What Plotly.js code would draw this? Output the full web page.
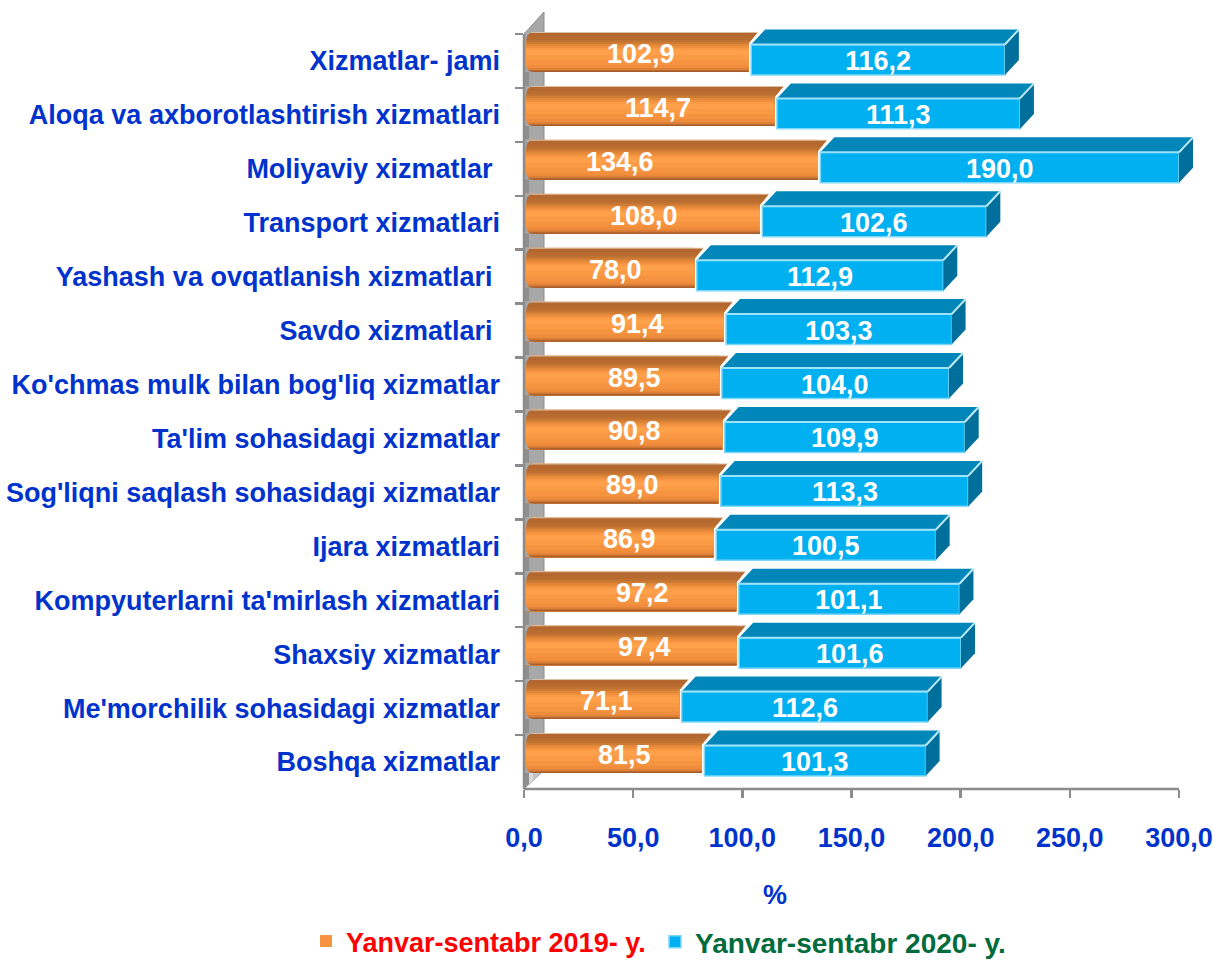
<!DOCTYPE html>
<html><head><meta charset="utf-8">
<script src="https://cdn.plot.ly/plotly-3.0.1.min.js"></script>
<style>html,body{margin:0;padding:0;background:#fff;overflow:hidden}</style>
</head><body><div id="chart" style="width:1214px;height:960px"></div>
<script>
var categories = ["Xizmatlar- jami","Aloqa va axborotlashtirish xizmatlari","Moliyaviy xizmatlar ","Transport xizmatlari","Yashash va ovqatlanish xizmatlari ","Savdo xizmatlari ","Ko'chmas mulk bilan bog'liq xizmatlar","Ta'lim sohasidagi xizmatlar","Sog'liqni saqlash sohasidagi xizmatlar","Ijara xizmatlari","Kompyuterlarni ta'mirlash xizmatlari","Shaxsiy xizmatlar","Me'morchilik sohasidagi xizmatlar","Boshqa xizmatlar"];
var values2019 = [102.9,114.7,134.6,108.0,78.0,91.4,89.5,90.8,89.0,86.9,97.2,97.4,71.1,81.5];
var values2020 = [116.2,111.3,190.0,102.6,112.9,103.3,104.0,109.9,113.3,100.5,101.1,101.6,112.6,101.3];
var name2019 = "Yanvar-sentabr 2019- y.";
var name2020 = "Yanvar-sentabr 2020- y.";
var axisMax = 300;
// where the hand-placed labels of the 2019 series sit on the x axis
var label2019At = [53.6,61.4,44.0,55.0,41.7,52.2,50.4,50.8,49.9,48.5,54.5,55.4,38.0,45.8];

var W=1214,H=960,L=524,B=171,pxX=655/300,pxY=53.93;
var xRangeMax=(W-L)/pxX, yRangeTop=13.5-(H-B)/pxY;
function dx(p){return p/pxX;} function dy(p){return p/pxY;}
var fmt=function(v){return v.toFixed(1).replace('.',',');};
var base2020=values2019.map(function(v){return v+dx(2.5);});
var drawn2020=values2020.map(function(v,i){return Math.min(v,axisMax-base2020[i]);});
var fam='"Liberation Sans",Arial,sans-serif';
var shapes=[],annotations=[];
function path(pts,fill,layer,line){
  shapes.push({type:'path',xref:'x',yref:'y',layer:layer||'above',
    path:'M'+pts.map(function(p){return p[0]+','+p[1];}).join(' L')+' Z',
    fillcolor:fill,line:line||{width:0}});
}
// wall
var wx=dx(20),wy=dy(22);
path([[0,13.5],[wx,13.5-dy(19)],[wx,-0.5-wy],[0,-0.5]],'#A8A8A8','below',{color:'#8C8C8C',width:1});
path([[0,13.5],[wx,13.5-dy(19)],[wx,13.5-dy(48)],[0,13.5-dy(30)]],'#C4C4C4','below');
path([[0,13.5],[dx(9),13.5-dy(9)],[dx(9),13.5-dy(30)],[0,13.5-dy(30)]],'#DADADA','below');
path([[0,-0.5],[dx(5),-0.5],[dx(5),13.5-dy(5)],[0,13.5]],'#8F8F8F','below');

// orange cylinder shading: top edge of each band (px from row centre), colour. Painted top to bottom.
var ramp=[[-29,'#DDBFA3'],[-28,'#B4682F'],[-24,'#B96C30'],[-21,'#C07232'],[-19,'#CF7C35'],[-17,'#E38839'],
 [-15,'#F0903E'],[-13,'#FB9A46'],[-11,'#FFA04A'],[-6,'#FB9A45'],[-1,'#F59340'],[4,'#EF8D3C'],
 [7,'#DE8138'],[9,'#B96A30'],[10,'#A45C2B']];
var rampBottom=11,slantTop=-29,slantBot=-18;
categories.forEach(function(c,i){
  var o=values2019[i], fs=base2020[i], end=fs+drawn2020[i];
  var yb0=i+dy(rampBottom), ys=i+dy(slantBot);
  ramp.forEach(function(r){
    var t=i+dy(r[0]);
    var s=r[0]<slantBot?dx(9.5*(slantBot-r[0])/(slantBot-slantTop)):0;
    path(r[0]<slantBot?[[0,t],[o+s,t],[o,ys],[o,yb0],[0,yb0]]:[[0,t],[o,t],[o,yb0],[0,yb0]],r[1]);
  });
  // rounded left end: wall colour masks the square corners
  var yt=i+dy(-29),yb=i+dy(11),e=dx(2),q=dx(10);
  shapes.push({type:'path',xref:'x',yref:'y',layer:'above',line:{width:0},fillcolor:'#A8A8A8',
    path:'M0,'+yt+' L'+q+','+yt+' Q'+e+','+yt+' '+e+','+(yt+dy(11))+' L'+e+','+(yb-dy(8))+' Q'+e+','+yb+' '+q+','+yb+' L0,'+yb+' Z'});
  // blue box: top + side faces
  var ft=i+dy(-16.5),fb=i+dy(14),ox=dx(14),oy=dy(15);
  path([[fs,ft],[fs+ox,ft-oy],[end+ox,ft-oy],[end,ft]],'#0086B8');
  path([[end,ft],[end+ox,ft-oy],[end+ox,fb-oy],[end,fb]],'#006F9C');
  shapes.push({type:'line',xref:'x',yref:'y',layer:'above',x0:fs,x1:end,y0:ft,y1:ft,line:{color:'#9FE3FA',width:2}});
  shapes.push({type:'line',xref:'x',yref:'y',layer:'above',x0:end,x1:end+ox,y0:ft,y1:ft-oy,line:{color:'#BFEBFA',width:2}});
  annotations.push({xref:'x',yref:'y',x:label2019At[i],y:i,yshift:7,text:fmt(o),showarrow:false,
    font:{family:fam,size:27,color:'#fff',weight:700}});
  annotations.push({xref:'x',yref:'y',x:fs+drawn2020[i]/2,y:i,yshift:0,text:fmt(values2020[i]),showarrow:false,
    font:{family:fam,size:27,color:'#fff',weight:700}});
});
// axis lines (one paper reference each, so they are not cut in half by the plot clip)
shapes.push({type:'line',xref:'x',yref:'paper',layer:'above',x0:0,x1:axisMax,y0:0,y1:0,line:{color:'#8C8C8C',width:2.5}});
shapes.push({type:'line',xref:'paper',yref:'y',layer:'above',x0:0,x1:0,y0:-0.5,y1:13.5,line:{color:'#8C8C8C',width:2.5}});
annotations.push({xref:'paper',yref:'paper',x:(775-L)/(W-L),xanchor:'center',y:(H-B-895)/(H-B),yanchor:'middle',text:'%',showarrow:false,
  font:{family:fam,size:27,color:'#0033CC',weight:700}});

var traces=[
 {type:'bar',orientation:'h',name:name2019,y:categories,x:values2019,width:0.741,offset:-0.537,
  marker:{color:'#F59340',line:{width:0}},hoverinfo:'x+y',legend:'legend'},
 {type:'bar',orientation:'h',name:name2020,y:categories,x:drawn2020,base:base2020,width:0.565,offset:-0.306,
  marker:{color:'#00B0F0',line:{color:'#7FD7F7',width:1.5}},hoverinfo:'x+y',legend:'legend2'}
];
var layout={
 width:W,height:H,paper_bgcolor:'#fff',plot_bgcolor:'rgba(0,0,0,0)',
 margin:{l:L,r:0,t:0,b:B,pad:0,autoexpand:false},
 barmode:'overlay',separators:', ',
 xaxis:{range:[0,xRangeMax],tick0:0,dtick:50,tickformat:'.1f',ticks:'outside',ticklen:8,tickwidth:2.5,tickcolor:'#8C8C8C',
  showgrid:false,zeroline:false,showline:false,ticklabelstandoff:17,
  tickfont:{family:fam,size:27,color:'#0033CC',weight:700}},
 yaxis:{type:'category',categoryorder:'array',categoryarray:categories,range:[13.5,yRangeTop],tickson:'boundaries',ticks:'outside',ticklen:8,tickwidth:2.5,tickcolor:'#8C8C8C',
  showgrid:false,zeroline:false,showline:false,ticklabelstandoff:23,
  tickfont:{family:fam,size:27,color:'#0033CC',weight:700}},
 shapes:shapes,annotations:annotations,
 legend:{x:(306-L)/(W-L),xanchor:'left',y:(H-B-917)/(H-B),yanchor:'top',bgcolor:'rgba(0,0,0,0)',itemwidth:30,font:{family:fam,size:27,color:'#FF0000',weight:700}},
 legend2:{x:(655-L)/(W-L),xanchor:'left',y:(H-B-917)/(H-B),yanchor:'top',bgcolor:'rgba(0,0,0,0)',itemwidth:30,font:{family:fam,size:28,color:'#006B3C',weight:700}},
 showlegend:true
};
Plotly.newPlot('chart',traces,layout,{displayModeBar:false,staticPlot:true});
</script></body></html>
